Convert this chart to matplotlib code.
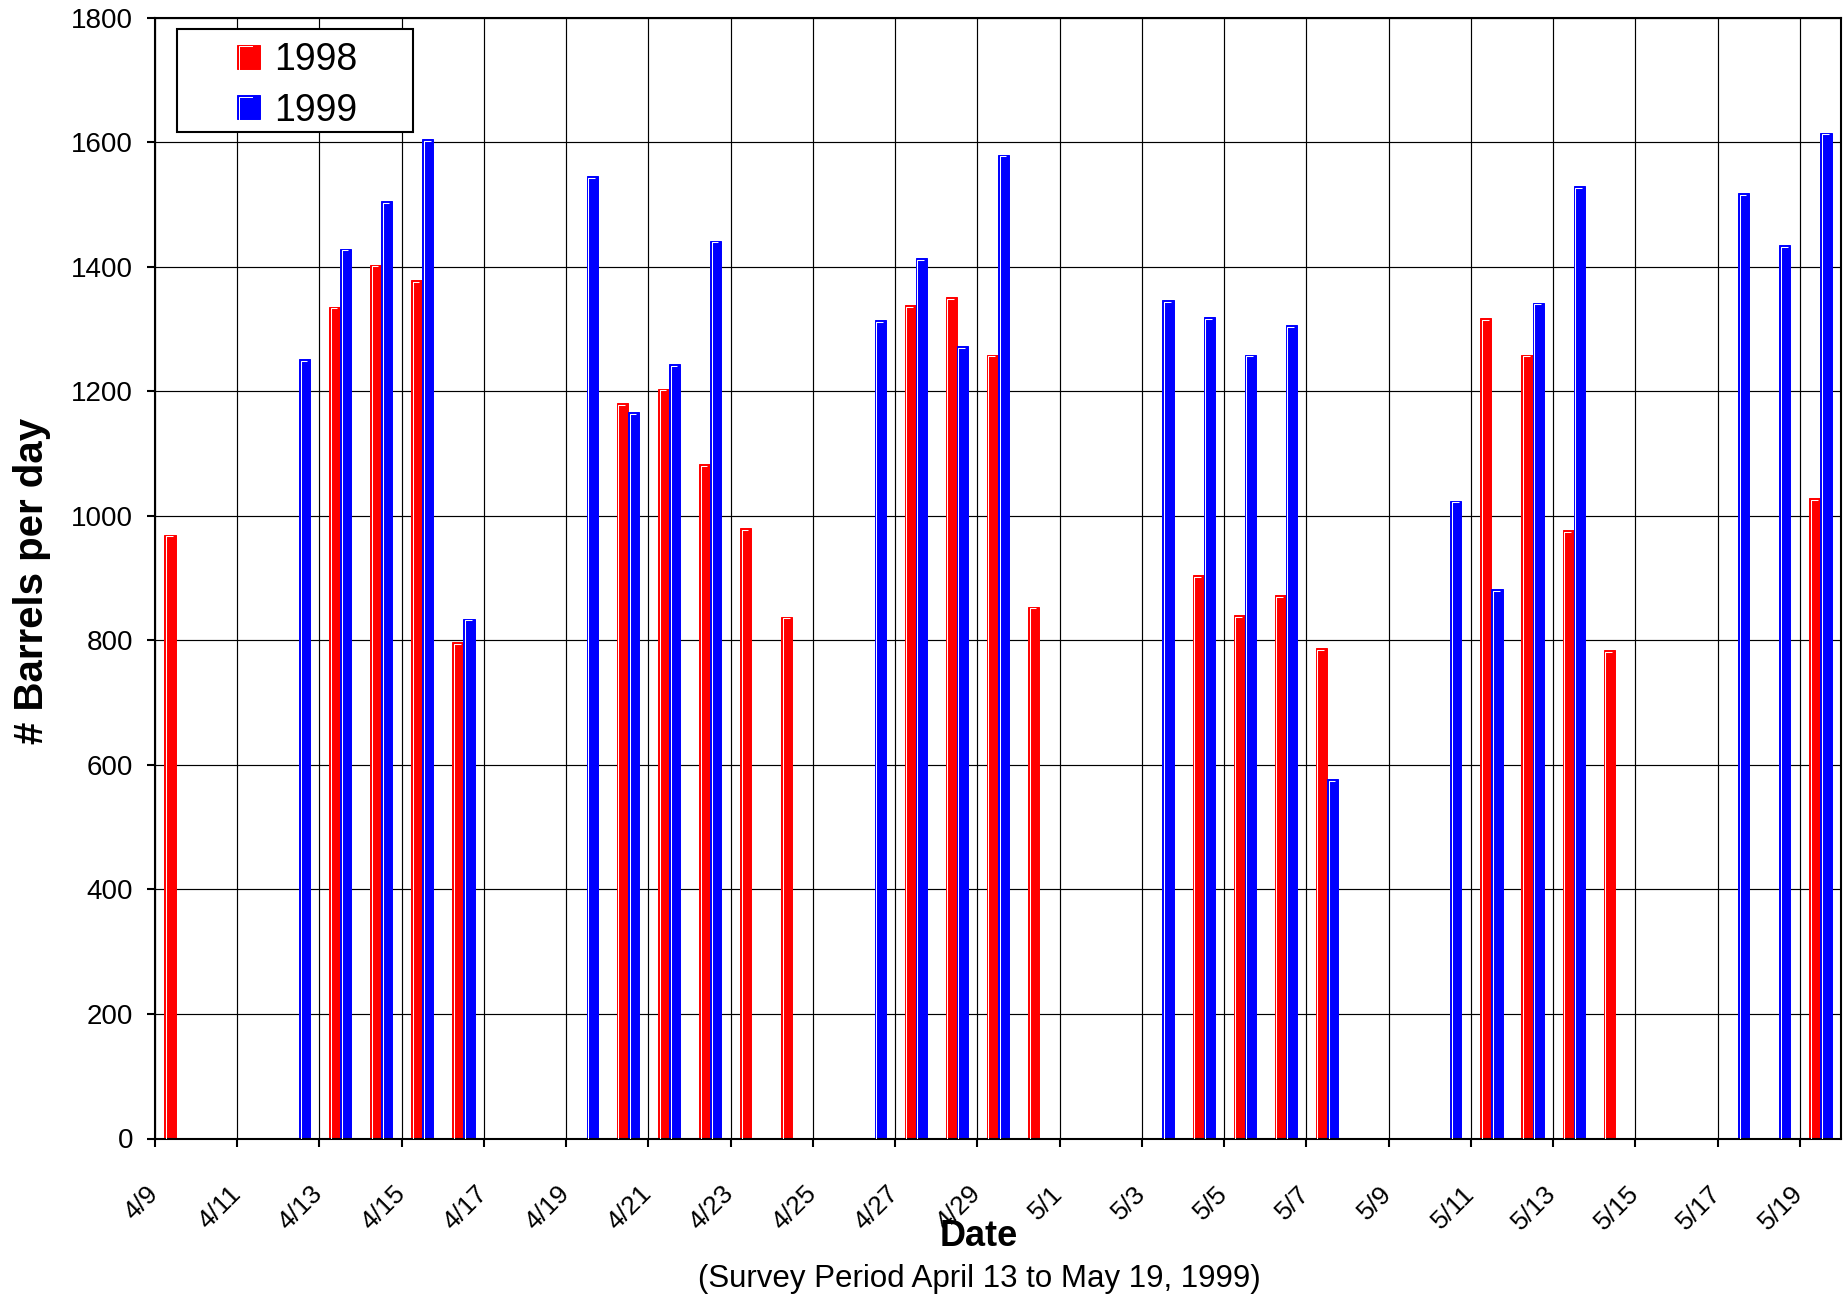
import numpy as np
import matplotlib
matplotlib.use("Agg")
import matplotlib.pyplot as plt
from matplotlib import font_manager
from matplotlib.font_manager import FontProperties
from matplotlib.lines import Line2D
from matplotlib.patches import Rectangle
from matplotlib.legend_handler import HandlerPatch
from matplotlib.transforms import offset_copy, ScaledTranslation

# one entry per survey day, 4/9 .. 5/19 (nan = no reading)
days = (["4/%d" % d for d in range(9, 31)] +
        ["5/%d" % d for d in range(1, 20)])
nan = np.nan
bpd_1998 = [970, nan, nan, nan, 1336, 1403, 1378, 797, nan, nan,
            nan, 1181, 1204, 1083, 980, 838, nan, nan, 1338, 1351,
            1259, 854, nan, nan, nan, 905, 840, 873, 787, nan,
            nan, nan, 1317, 1259, 977, 784, nan, nan, nan, nan,
            1028]
bpd_1999 = [nan, nan, nan, 1252, 1429, 1505, 1605, 835, nan, nan,
            1545, 1166, 1244, 1442, nan, nan, nan, 1314, 1414, 1272,
            1580, nan, nan, nan, 1346, 1319, 1259, 1306, 577, nan,
            nan, 1024, 882, 1342, 1529, nan, nan, nan, 1518, 1435,
            1615]
series = ["1998", "1999"]
colors = ["#ff0000", "#0000ff"]
y_ticks = list(range(0, 1801, 200))


def has_font(name):
    try:
        font_manager.findfont(FontProperties(family=name), fallback_to_default=False)
        return True
    except ValueError:
        return False


BASE = "Liberation Sans"
if has_font("Liberation Sans Narrow"):
    NARROW, xt_size, sub_size = "Liberation Sans Narrow", 22.5, 27
else:
    NARROW, xt_size, sub_size = BASE, 19, 22.5
plt.rcParams["font.family"] = [BASE, "DejaVu Sans"]


class BevelHandler(HandlerPatch):
    """legend swatch with the white inner highlight the bars have"""
    def create_artists(self, legend, orig_handle, xdescent, ydescent,
                       width, height, fontsize, trans):
        arts = super().create_artists(legend, orig_handle, xdescent, ydescent,
                                      width, height, fontsize, trans)
        x0, y0 = -xdescent + 1.1, -ydescent
        top = -ydescent + height - 1.1
        ln = Line2D([x0, x0, -xdescent + 0.65 * width], [y0, top, top],
                    color="white", lw=0.7, transform=trans)
        return arts + [ln]


W, H = 1848, 1299
fig = plt.figure(figsize=(W / 100, H / 100), dpi=100)
ax = fig.add_axes([155 / W, 1 - 1138.5 / H, (1841 - 155) / W, (1138.5 - 17.7) / H])

x = np.arange(len(days))
bw = 0.27
bevel = offset_copy(ax.transData, fig=fig, x=1.6, y=-1.6, units="dots")
handles = []
for vals, off, c, lab in zip([bpd_1998, bpd_1999], [-bw, 0.0], colors, series):
    bars = ax.bar(x + 0.5 + off, vals, width=bw, align="edge", color=c,
                  edgecolor=c, linewidth=0.7, zorder=2)
    for p in bars.patches:
        h = p.get_height()
        if np.isnan(h):
            continue
        x0, w = p.get_x(), p.get_width()
        ax.plot([x0, x0, x0 + 0.6 * w], [0, h, h], color="white", lw=0.75,
                transform=bevel, zorder=3, solid_capstyle="butt")
    handles.append(Rectangle((0, 0), 1, 1, facecolor=c, edgecolor=c,
                             linewidth=0.7, label=lab))

ax.set_xlim(0, len(days))
ax.set_ylim(0, 1800)
ax.set_yticks(y_ticks)
ax.set_xticks(x[::2])
ax.set_xticklabels(days[::2], rotation=45, ha="right", va="top",
                   fontsize=xt_size, family=[NARROW, BASE])
ax.tick_params(axis="y", labelsize=20, length=5.8, width=1.5, pad=10)
ax.tick_params(axis="x", length=5.8, width=1.5, pad=25)
shift = ScaledTranslation(8 / 100, 0, fig.dpi_scale_trans)
for lbl in ax.get_xticklabels():
    lbl.set_transform(lbl.get_transform() + shift)

ax.set_axisbelow(True)
ax.grid(True, color="black", linewidth=0.85)
for s in ax.spines.values():
    s.set_linewidth(1.5)

# legend: entries from the library, box drawn separately (Excel pads it wide)
ax.add_patch(Rectangle((177 / W, 1 - 132 / H), (413 - 177) / W, (132 - 29) / H,
                       transform=fig.transFigure, facecolor="white",
                       edgecolor="black", linewidth=1.5, zorder=4))
leg = ax.legend(handles=handles, loc="upper left",
                bbox_to_anchor=(237 / W, 1 - 42 / H), bbox_transform=fig.transFigure,
                fontsize=27, frameon=False, borderpad=0, borderaxespad=0,
                handlelength=0.613, handleheight=0.613, handletextpad=0.37,
                labelspacing=0.39, handler_map={Rectangle: BevelHandler()})
leg.set_zorder(5)

fig.text(32 / W, 1 - 581 / H, "# Barrels per day", rotation=90, ha="center",
         va="center", fontsize=29, fontweight="bold")
fig.text(979 / W, 1 - 1236 / H, "Date", ha="center", va="center",
         fontsize=26, fontweight="bold")
fig.text(979 / W, 1 - 1279 / H, "(Survey Period April 13 to May 19, 1999)",
         ha="center", va="center", fontsize=sub_size, family=[NARROW, BASE])

fig.savefig("out.png", dpi=100)
